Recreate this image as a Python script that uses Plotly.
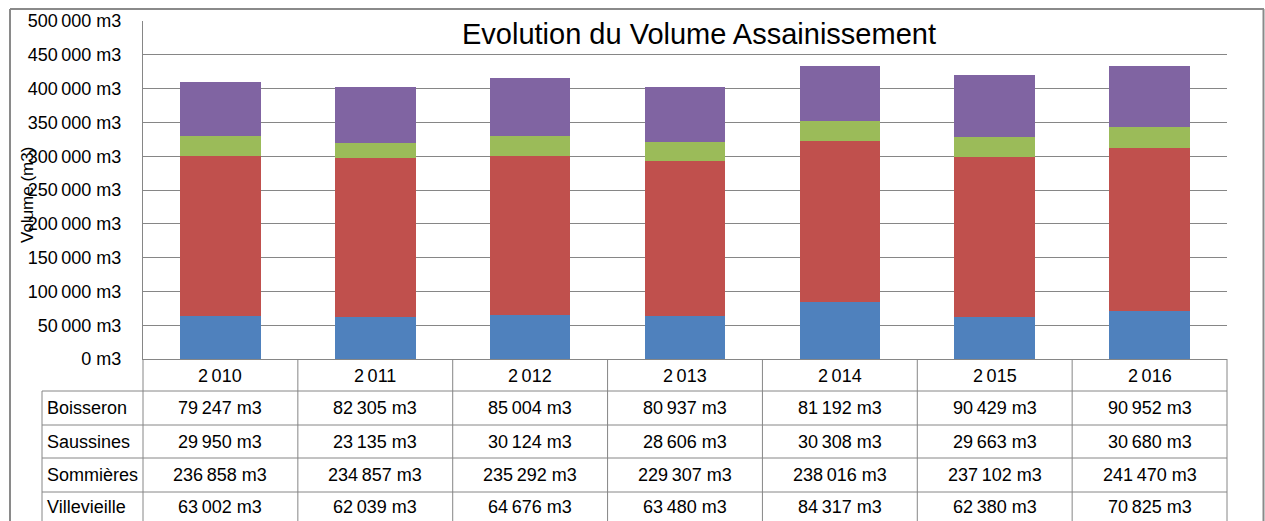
import plotly.graph_objects as go

# ---- data ----
years = ["2010", "2011", "2012", "2013", "2014", "2015", "2016"]
year_labels = ["2\u2009010", "2\u2009011", "2\u2009012", "2\u2009013", "2\u2009014", "2\u2009015", "2\u2009016"]
boisseron = [79247, 82305, 85004, 80937, 81192, 90429, 90952]
saussines = [29950, 23135, 30124, 28606, 30308, 29663, 30680]
sommieres = [236858, 234857, 235292, 229307, 238016, 237102, 241470]
villevieille = [63002, 62039, 64676, 63480, 84317, 62380, 70825]
y_ticks = [0, 50000, 100000, 150000, 200000, 250000, 300000, 350000, 400000, 450000, 500000]

series = [
    ("Villevieille", villevieille, "#4F81BD"),
    ("Sommières", sommieres, "#C0504D"),
    ("Saussines", saussines, "#9BBB59"),
    ("Boisseron", boisseron, "#8064A2"),
]
table_rows = ["Boisseron", "Saussines", "Sommières", "Villevieille"]
table_data = {"Boisseron": boisseron, "Saussines": saussines,
              "Sommières": sommieres, "Villevieille": villevieille}


def fmt(v):
    return f"{v:,}".replace(",", "\u2009") + " m3"


# ---- layout geometry (page pixels) ----
W, H = 1265, 521
L, R, T, B = 143, 1227, 21, 359  # plot area
PW, PH = R - L, B - T
FONT = "Liberation Sans, Arial, sans-serif"
GRID = "#868686"


def px(x):
    return (x - L) / PW


def py(y):
    return (B - y) / PH


fig = go.Figure()
for name, vals, color in series:
    fig.add_trace(go.Bar(x=years, y=vals, name=name, marker=dict(color=color, line=dict(width=0)),
                         width=0.52, showlegend=False))

fig.update_layout(
    width=W, height=H, barmode="stack",
    margin=dict(l=L, r=W - R, t=T, b=H - B, pad=0, autoexpand=False),
    paper_bgcolor="white", plot_bgcolor="white",
    font=dict(family=FONT, size=18, color="black"),
    xaxis=dict(type="category", range=[-0.5, 6.5], showticklabels=False, showgrid=False,
               showline=True, linecolor=GRID, linewidth=1, zeroline=False, ticks="",
               automargin=False),
    yaxis=dict(range=[0, 500000], tickvals=y_ticks, ticktext=[fmt(v) for v in y_ticks],
               showgrid=True, gridcolor=GRID, gridwidth=1, showline=True, linecolor=GRID,
               linewidth=1, zeroline=False, ticks="", ticklabelstandoff=17, automargin=False,
               tickfont=dict(family=FONT, size=18, color="black")),
)

ann = []
# title
ann.append(dict(text="Evolution du Volume Assainissement", xref="paper", yref="paper",
                x=px(699), y=py(34), xanchor="center", yanchor="middle", showarrow=False,
                font=dict(family=FONT, size=29, color="black")))
# y-axis title
ann.append(dict(text="Volume (m3)", xref="paper", yref="paper", x=px(27), y=py(195),
                xanchor="center", yanchor="middle", textangle=-90, showarrow=False,
                font=dict(family=FONT, size=17, color="black")))
# header row (years)
for i, lab in enumerate(year_labels):
    ann.append(dict(text=lab, xref="x", yref="paper", x=i, y=py(376), xanchor="center",
                    yanchor="middle", showarrow=False, font=dict(family=FONT, size=18)))
# table body
row_centers = [408, 441.5, 475, 507]
for rname, yc in zip(table_rows, row_centers):
    ann.append(dict(text=rname, xref="paper", yref="paper", x=px(45), y=py(yc),
                    xanchor="left", yanchor="middle", showarrow=False,
                    font=dict(family=FONT, size=18)))
    for i, v in enumerate(table_data[rname]):
        ann.append(dict(text=fmt(v), xref="x", yref="paper", x=i, y=py(yc),
                        xanchor="center", yanchor="middle", showarrow=False,
                        font=dict(family=FONT, size=18)))
fig.update_layout(annotations=ann)

shapes = []
line = dict(color=GRID, width=1)
# table horizontal lines
for yl in [391, 425, 458, 492]:
    shapes.append(dict(type="line", xref="paper", yref="paper", x0=px(42), x1=1,
                       y0=py(yl), y1=py(yl), line=line))
# table vertical lines at column boundaries
n = len(years)
for k in range(n + 1):
    shapes.append(dict(type="line", xref="paper", yref="paper", x0=k / n, x1=k / n,
                       y0=0, y1=py(523), line=line))
# label column left edge
shapes.append(dict(type="line", xref="paper", yref="paper", x0=px(42), x1=px(42),
                   y0=py(391), y1=py(523), line=line))
# outer frame
frame = dict(color="#8a8a8a", width=2)
shapes.append(dict(type="line", xref="paper", yref="paper", x0=px(10), x1=px(1264),
                   y0=py(9), y1=py(9), line=frame))
shapes.append(dict(type="line", xref="paper", yref="paper", x0=px(10), x1=px(10),
                   y0=py(9), y1=py(523), line=frame))
shapes.append(dict(type="line", xref="paper", yref="paper", x0=px(1263.5), x1=px(1263.5),
                   y0=py(9), y1=py(523), line=frame))
fig.update_layout(shapes=shapes)

fig.write_html("out.html", config={"displayModeBar": False},
               post_script="document.body.style.margin='0';document.body.style.overflow='hidden';")
